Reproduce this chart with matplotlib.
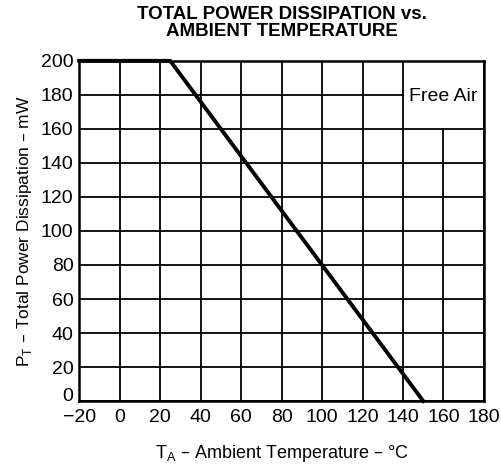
import matplotlib.pyplot as plt
import matplotlib.transforms as mtransforms
from matplotlib.patches import Rectangle

plt.rcParams['font.family'] = ['Liberation Sans', 'DejaVu Sans']

# derating curve: flat at max power, then linear down to zero
temp = [-20, 25, 150]
power = [200, 200, 0]

xticks = [-20, 0, 20, 40, 60, 80, 100, 120, 140, 160, 180]
yticks = [0, 20, 40, 60, 80, 100, 120, 140, 160, 180, 200]

fig = plt.figure(figsize=(5.01, 4.68), dpi=100)
ax = fig.add_axes([0.158, 0.143, 0.808, 0.727])

ax.plot(temp, power, color='black', linewidth=2.8, zorder=3, clip_on=False)
ax.set_xlim(-20, 180)
ax.set_ylim(0, 200)
ax.set_xticks(xticks)
ax.set_yticks(yticks)
ax.set_xticklabels(['\u2212' + str(-t) if t < 0 else str(t) for t in xticks])
ax.tick_params(length=0, labelsize=14)
ax.tick_params(axis='x', pad=6)
ax.tick_params(axis='y', pad=4)
ax.grid(True, color='black', linewidth=1.3)
for s in ax.spines.values():
    s.set_linewidth(1.8)

# lift the "0" on the y axis a little, as in the original
lbl0 = ax.get_yticklabels()[0]
lbl0.set_transform(lbl0.get_transform() +
                   mtransforms.ScaledTranslation(0, 5 / 72, fig.dpi_scale_trans))

# blank cell for the label
ax.add_patch(Rectangle((140.5, 160.5), 39.2, 39.2, facecolor='white',
                       edgecolor='none', zorder=2))
ax.text(160, 179, 'Free Air', ha='center', va='center', fontsize=14)

ax.set_xlabel('T$_\\mathregular{A}$ \u2013 Ambient Temperature \u2013 \u00b0C',
              fontsize=13, labelpad=12)
ax.set_ylabel('P$_\\mathregular{T}$ \u2013 Total Power Dissipation \u2013 mW',
              fontsize=12.5, labelpad=5)
ax.set_title('TOTAL POWER DISSIPATION vs.\nAMBIENT TEMPERATURE',
             fontsize=13.5, fontweight='bold', linespacing=0.95, pad=18)

fig.savefig('out.png', dpi=100)
